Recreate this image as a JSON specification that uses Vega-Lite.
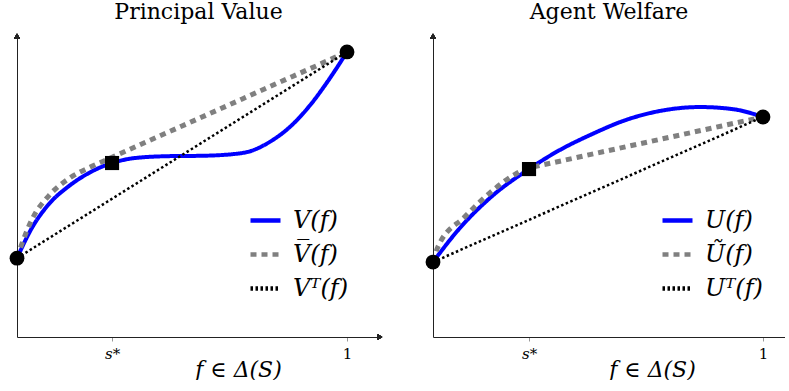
{
  "$schema": "https://vega.github.io/schema/vega-lite/v6.json",
  "padding": {"left": 7, "top": 0, "right": 0, "bottom": 0},
  "spacing": 40,
  "config": {
    "view": {"stroke": null},
    "title": {"font": "DejaVu Serif", "fontSize": 22, "fontWeight": "normal", "color": "#000", "frame": "group", "offset": 10},
    "axis": {"grid": false, "domainColor": "#222", "domainWidth": 1, "labelFont": "DejaVu Serif", "titleFont": "DejaVu Serif", "labelColor": "#000", "titleColor": "#000"},
    "legend": {"labelFont": "DejaVu Serif", "labelFontStyle": "italic", "labelFontSize": 24, "labelColor": "#000", "symbolType": "stroke", "symbolSize": 900, "symbolStrokeWidth": 4.5, "labelOffset": 10, "rowPadding": 4}
  },
  "datasets": {
    "left": [
      {"s": "V(f)", "x": 0, "y": 0.262}, {"s": "V(f)", "x": 0.045, "y": 0.362}, {"s": "V(f)", "x": 0.097, "y": 0.442}, {"s": "V(f)", "x": 0.158, "y": 0.502}, {"s": "V(f)", "x": 0.218, "y": 0.545}, {"s": "V(f)", "x": 0.288, "y": 0.578}, {"s": "V(f)", "x": 0.361, "y": 0.595}, {"s": "V(f)", "x": 0.467, "y": 0.601}, {"s": "V(f)", "x": 0.558, "y": 0.602}, {"s": "V(f)", "x": 0.658, "y": 0.608}, {"s": "V(f)", "x": 0.709, "y": 0.618}, {"s": "V(f)", "x": 0.761, "y": 0.645}, {"s": "V(f)", "x": 0.83, "y": 0.701}, {"s": "V(f)", "x": 0.891, "y": 0.774}, {"s": "V(f)", "x": 0.942, "y": 0.85}, {"s": "V(f)", "x": 1, "y": 0.947},
      {"s": "V̅(f)", "x": 0, "y": 0.262}, {"s": "V̅(f)", "x": 0.015, "y": 0.31}, {"s": "V̅(f)", "x": 0.045, "y": 0.39}, {"s": "V̅(f)", "x": 0.097, "y": 0.47}, {"s": "V̅(f)", "x": 0.158, "y": 0.527}, {"s": "V̅(f)", "x": 0.227, "y": 0.567}, {"s": "V̅(f)", "x": 0.288, "y": 0.597}, {"s": "V̅(f)", "x": 0.3, "y": 0.603}, {"s": "V̅(f)", "x": 0.5, "y": 0.701}, {"s": "V̅(f)", "x": 0.75, "y": 0.824}, {"s": "V̅(f)", "x": 0.99, "y": 0.942}, {"s": "V̅(f)", "x": 1, "y": 0.947},
      {"s": "Vᵀ(f)", "x": 0, "y": 0.262}, {"s": "Vᵀ(f)", "x": 1, "y": 0.947}
    ],
    "leftPts": [
      {"kind": "end", "x": 0, "y": 0.262}, {"kind": "kink", "x": 0.288, "y": 0.578}, {"kind": "end", "x": 1, "y": 0.947}
    ],
    "right": [
      {"s": "U(f)", "x": 0, "y": 0.249}, {"s": "U(f)", "x": 0.076, "y": 0.355}, {"s": "U(f)", "x": 0.179, "y": 0.468}, {"s": "U(f)", "x": 0.291, "y": 0.558}, {"s": "U(f)", "x": 0.379, "y": 0.618}, {"s": "U(f)", "x": 0.482, "y": 0.674}, {"s": "U(f)", "x": 0.582, "y": 0.72}, {"s": "U(f)", "x": 0.709, "y": 0.755}, {"s": "U(f)", "x": 0.809, "y": 0.764}, {"s": "U(f)", "x": 0.909, "y": 0.757}, {"s": "U(f)", "x": 1, "y": 0.731},
      {"s": "Ũ(f)", "x": 0, "y": 0.249}, {"s": "Ũ(f)", "x": 0.015, "y": 0.3}, {"s": "Ũ(f)", "x": 0.097, "y": 0.4}, {"s": "Ũ(f)", "x": 0.179, "y": 0.485}, {"s": "Ũ(f)", "x": 0.248, "y": 0.54}, {"s": "Ũ(f)", "x": 0.291, "y": 0.562}, {"s": "Ũ(f)", "x": 0.3, "y": 0.5641}, {"s": "Ũ(f)", "x": 0.5, "y": 0.6118}, {"s": "Ũ(f)", "x": 0.75, "y": 0.6714}, {"s": "Ũ(f)", "x": 0.99, "y": 0.7286}, {"s": "Ũ(f)", "x": 1, "y": 0.731},
      {"s": "Uᵀ(f)", "x": 0, "y": 0.249}, {"s": "Uᵀ(f)", "x": 1, "y": 0.731}
    ],
    "rightPts": [
      {"kind": "end", "x": 0, "y": 0.249}, {"kind": "kink", "x": 0.291, "y": 0.558}, {"kind": "end", "x": 1, "y": 0.731}
    ]
  },
  "resolve": {"scale": {"x": "independent", "y": "independent", "color": "independent", "strokeDash": "independent"}, "legend": {"color": "independent", "strokeDash": "independent"}},
  "hconcat": [
    {
      "width": 363, "height": 301,
      "title": {"text": "Principal Value"},
      "data": {"name": "left"},
      "encoding": {
        "x": {"field": "x", "type": "quantitative", "scale": {"domain": [0, 1.1], "nice": false}, "axis": {"values": [0.288, 1], "labelExpr": "datum.value == 1 ? '1' : 's*'", "labelFontStyle": {"condition": {"test": "datum.value == 1", "value": "normal"}, "value": "italic"}, "labelFontSize": 15, "tickColor": "#999", "tickSize": 4, "labelPadding": 5, "title": "f ∈ Δ(S)", "titleFontSize": 22, "titleFontStyle": "italic", "titleFontWeight": "normal", "titleX": 221, "titleY": 39, "titleBaseline": "alphabetic"}},
        "y": {"field": "y", "type": "quantitative", "scale": {"domain": [0, 1], "nice": false}, "axis": {"ticks": false, "labels": false, "title": null}},
        "color": {"field": "s", "type": "nominal", "scale": {"domain": ["V(f)", "V̅(f)", "Vᵀ(f)"], "range": ["#0000ff", "#808080", "#000000"]}, "legend": {"title": null, "orient": "none", "legendX": 231, "legendY": 167}},
        "strokeDash": {"field": "s", "type": "nominal", "scale": {"domain": ["V(f)", "V̅(f)", "Vᵀ(f)"], "range": [[1, 0], [6, 5], [2.5, 2.5]]}, "legend": {"title": null, "orient": "none", "legendX": 231, "legendY": 167}}
      },
      "layer": [
        {"transform": [{"filter": "datum.s == 'V(f)'"}], "mark": {"type": "line", "strokeCap": "butt", "strokeWidth": 4, "interpolate": "monotone", "clip": false}},
        {"transform": [{"filter": "datum.s == 'V̅(f)'"}], "mark": {"type": "line", "strokeCap": "butt", "strokeWidth": 5, "interpolate": "monotone", "clip": false}},
        {"transform": [{"filter": "datum.s == 'Vᵀ(f)'"}], "mark": {"type": "line", "strokeCap": "butt", "strokeWidth": 2.5, "clip": false}},
        {
          "data": {"name": "leftPts"},
          "transform": [{"filter": "datum.kind == 'end'"}],
          "mark": {"type": "point", "shape": "circle", "filled": true, "color": "#000", "opacity": 1, "size": 220, "clip": false},
          "encoding": {"color": {"value": "#000"}, "strokeDash": {"value": [1, 0]}}
        },
        {
          "data": {"name": "leftPts"},
          "transform": [{"filter": "datum.kind == 'kink'"}],
          "mark": {"type": "point", "shape": "square", "filled": true, "color": "#000", "opacity": 1, "size": 200, "clip": false},
          "encoding": {"color": {"value": "#000"}, "strokeDash": {"value": [1, 0]}}
        },
        {
          "mark": {"type": "point", "shape": "triangle-right", "filled": true, "color": "#222", "opacity": 1, "size": 25, "clip": false},
          "encoding": {"x": {"datum": 1.1}, "y": {"datum": 0}, "color": {"value": "#222"}, "strokeDash": {"value": [1, 0]}}
        },
        {
          "mark": {"type": "point", "shape": "triangle-up", "filled": true, "color": "#222", "opacity": 1, "size": 25, "clip": false},
          "encoding": {"x": {"datum": 0}, "y": {"datum": 1}, "color": {"value": "#222"}, "strokeDash": {"value": [1, 0]}}
        }
      ]
    },
    {
      "width": 352, "height": 301,
      "title": {"text": "Agent Welfare"},
      "data": {"name": "right"},
      "encoding": {
        "x": {"field": "x", "type": "quantitative", "scale": {"domain": [0, 1.0667], "nice": false}, "axis": {"values": [0.291, 1], "labelExpr": "datum.value == 1 ? '1' : 's*'", "labelFontStyle": {"condition": {"test": "datum.value == 1", "value": "normal"}, "value": "italic"}, "labelFontSize": 15, "tickColor": "#999", "tickSize": 4, "labelPadding": 5, "title": "f ∈ Δ(S)", "titleFontSize": 22, "titleFontStyle": "italic", "titleFontWeight": "normal", "titleX": 219, "titleY": 39, "titleBaseline": "alphabetic"}},
        "y": {"field": "y", "type": "quantitative", "scale": {"domain": [0, 1], "nice": false}, "axis": {"ticks": false, "labels": false, "title": null}},
        "color": {"field": "s", "type": "nominal", "scale": {"domain": ["U(f)", "Ũ(f)", "Uᵀ(f)"], "range": ["#0000ff", "#808080", "#000000"]}, "legend": {"title": null, "orient": "none", "legendX": 227, "legendY": 167}},
        "strokeDash": {"field": "s", "type": "nominal", "scale": {"domain": ["U(f)", "Ũ(f)", "Uᵀ(f)"], "range": [[1, 0], [6, 5], [2.5, 2.5]]}, "legend": {"title": null, "orient": "none", "legendX": 227, "legendY": 167}}
      },
      "layer": [
        {"transform": [{"filter": "datum.s == 'U(f)'"}], "mark": {"type": "line", "strokeCap": "butt", "strokeWidth": 4, "interpolate": "monotone", "clip": false}},
        {"transform": [{"filter": "datum.s == 'Ũ(f)'"}], "mark": {"type": "line", "strokeCap": "butt", "strokeWidth": 5, "interpolate": "monotone", "clip": false}},
        {"transform": [{"filter": "datum.s == 'Uᵀ(f)'"}], "mark": {"type": "line", "strokeCap": "butt", "strokeWidth": 2.5, "clip": false}},
        {
          "data": {"name": "rightPts"},
          "transform": [{"filter": "datum.kind == 'end'"}],
          "mark": {"type": "point", "shape": "circle", "filled": true, "color": "#000", "opacity": 1, "size": 220, "clip": false},
          "encoding": {"color": {"value": "#000"}, "strokeDash": {"value": [1, 0]}}
        },
        {
          "data": {"name": "rightPts"},
          "transform": [{"filter": "datum.kind == 'kink'"}],
          "mark": {"type": "point", "shape": "square", "filled": true, "color": "#000", "opacity": 1, "size": 200, "clip": false},
          "encoding": {"color": {"value": "#000"}, "strokeDash": {"value": [1, 0]}}
        },
        {
          "mark": {"type": "point", "shape": "triangle-up", "filled": true, "color": "#222", "opacity": 1, "size": 25, "clip": false},
          "encoding": {"x": {"datum": 0}, "y": {"datum": 1}, "color": {"value": "#222"}, "strokeDash": {"value": [1, 0]}}
        }
      ]
    }
  ]
}
